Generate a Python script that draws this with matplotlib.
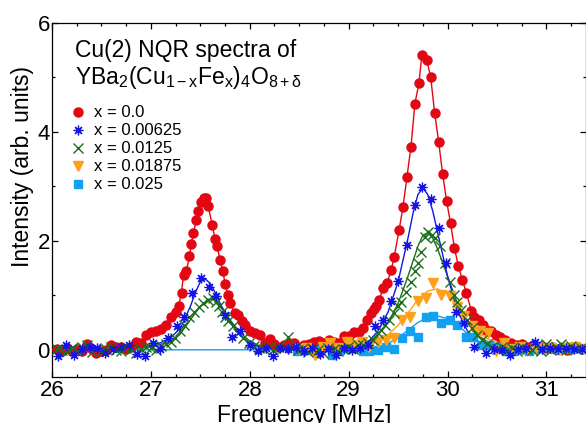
import matplotlib
matplotlib.use("Agg")
import matplotlib.pyplot as plt
from matplotlib.lines import Line2D
from matplotlib.ticker import MultipleLocator

plt.rcParams['font.family'] = ['Liberation Sans', 'DejaVu Sans']
plt.rcParams['mathtext.fontset'] = 'custom'
plt.rcParams['mathtext.rm'] = 'Liberation Sans'
plt.rcParams['mathtext.it'] = 'Liberation Sans'
plt.rcParams['mathtext.bf'] = 'Liberation Sans:bold'

labels = ["x = 0.0", "x = 0.00625", "x = 0.0125", "x = 0.01875", "x = 0.025"]

# x = 0.0
red_f = [26.05, 26.10, 26.15, 26.20, 26.25, 26.30, 26.35, 26.40, 26.45, 26.50, 26.55, 26.60, 26.65,
         26.70, 26.75, 26.80, 26.85, 26.90, 26.95, 27.00, 27.05, 27.10, 27.15, 27.20, 27.25, 27.28,
         27.31, 27.33, 27.36, 27.39, 27.41, 27.43, 27.46, 27.48, 27.51, 27.54, 27.56, 27.58, 27.62,
         27.65, 27.67, 27.70, 27.73, 27.75, 27.78, 27.80, 27.85, 27.88, 27.92, 27.95, 28.00, 28.05,
         28.10, 28.15, 28.20, 28.25, 28.30, 28.35, 28.40, 28.45, 28.50, 28.55, 28.60, 28.65, 28.70,
         28.75, 28.80, 28.85, 28.90, 28.95, 29.00, 29.05, 29.10, 29.14, 29.19, 29.23, 29.26, 29.28,
         29.31, 29.35, 29.39, 29.43, 29.46, 29.51, 29.55, 29.59, 29.63, 29.67, 29.71, 29.74, 29.79,
         29.83, 29.87, 29.91, 29.95, 29.99, 30.03, 30.07, 30.11, 30.15, 30.19, 30.24, 30.27, 30.32,
         30.36, 30.39, 30.44, 30.49, 30.53, 30.58, 30.64, 30.70, 30.75, 30.80, 30.86, 30.91, 30.96,
         31.01, 31.06, 31.11, 31.16, 31.21, 31.26, 31.31, 31.36]
red_i = [0.02, -0.02, 0.04, -0.03, 0.01, -0.03, 0.10, 0.02, -0.06, -0.02, 0.00, 0.08, 0.06,
         0.06, 0.02, 0.05, 0.14, 0.12, 0.27, 0.33, 0.34, 0.38, 0.45, 0.60, 0.70, 0.80,
         1.05, 1.38, 1.45, 1.72, 1.95, 2.14, 2.39, 2.54, 2.72, 2.78, 2.78, 2.64, 2.29,
         2.03, 1.90, 1.64, 1.44, 1.20, 1.01, 0.85, 0.67, 0.64, 0.52, 0.46, 0.34, 0.31,
         0.28, 0.13, 0.20, 0.10, 0.05, 0.09, 0.12, 0.13, 0.05, 0.09, 0.10, 0.15, 0.16,
         0.12, 0.18, 0.15, 0.12, 0.26, 0.25, 0.33, 0.33, 0.40, 0.55, 0.68, 0.75, 0.80,
         0.92, 1.14, 1.23, 1.47, 1.70, 2.20, 2.63, 3.18, 3.73, 4.52, 4.89, 5.41, 5.32,
         5.00, 4.34, 3.82, 3.23, 2.74, 2.32, 1.87, 1.53, 1.28, 1.05, 0.72, 0.60, 0.55,
         0.45, 0.37, 0.34, 0.28, 0.24, 0.18, 0.13, 0.08, 0.10, 0.05, 0.09, 0.04, 0.06,
         0.03, 0.05, 0.02, 0.04, 0.00, 0.03, 0.06, 0.02]

# x = 0.00625
blue_f = [26.06, 26.14, 26.22, 26.30, 26.38, 26.46, 26.54, 26.62, 26.70, 26.78, 26.86, 26.94,
          27.02, 27.09, 27.17, 27.26, 27.34, 27.42, 27.51, 27.59, 27.66, 27.75, 27.82, 27.90,
          28.00, 28.08, 28.16, 28.23, 28.31, 28.39, 28.47, 28.55, 28.63, 28.71, 28.79, 28.87,
          28.95, 29.03, 29.11, 29.20, 29.27, 29.35, 29.43, 29.50, 29.59, 29.67, 29.74, 29.83,
          29.91, 29.98, 30.09, 30.17, 30.27, 30.39, 30.47, 30.55, 30.63, 30.71, 30.79, 30.88,
          30.96, 31.04, 31.12, 31.20, 31.28, 31.36]
blue_i = [-0.12, 0.08, -0.09, 0.02, 0.05, 0.03, -0.05, 0.02, 0.05, 0.09, -0.08, -0.12,
          0.12, 0.02, 0.21, 0.43, 0.60, 1.05, 1.31, 1.15, 0.99, 0.64, 0.24, 0.34,
          0.09, -0.03, 0.04, -0.11, 0.04, 0.02, 0.05, -0.02, 0.03, -0.08, 0.02, -0.09,
          0.03, 0.00, 0.04, 0.09, 0.43, 0.55, 0.89, 1.26, 1.92, 2.65, 2.98, 2.77,
          2.23, 1.59, 0.70, 0.49, 0.06, -0.06, 0.02, 0.00, -0.09, 0.02, 0.03, 0.15,
          0.02, 0.04, 0.01, 0.03, 0.02, 0.01]

# x = 0.0125
green_f = [26.05, 26.10, 26.15, 26.20, 26.25, 26.30, 26.35, 26.40, 26.45, 26.50, 26.55, 26.60,
           26.65, 26.70, 26.75, 26.80, 26.85, 26.90, 26.95, 27.00, 27.05, 27.10, 27.15, 27.20,
           27.24, 27.29, 27.34, 27.39, 27.44, 27.49, 27.53, 27.58, 27.63, 27.66, 27.69, 27.72,
           27.75, 27.78, 27.83, 27.88, 27.93, 27.99, 28.04, 28.09, 28.14, 28.19, 28.24, 28.29,
           28.34, 28.39, 28.44, 28.49, 28.54, 28.59, 28.64, 28.69, 28.74, 28.79, 28.84, 28.89,
           28.94, 28.99, 29.04, 29.09, 29.15, 29.20, 29.25, 29.30, 29.33, 29.37, 29.41, 29.46,
           29.50, 29.53, 29.58, 29.63, 29.67, 29.70, 29.73, 29.77, 29.80, 29.84, 29.87, 29.92,
           29.97, 30.02, 30.07, 30.10, 30.14, 30.20, 30.25, 30.30, 30.35, 30.40, 30.45, 30.50,
           30.55, 30.60, 30.65, 30.70, 30.75, 30.80, 30.85, 30.90, 30.95, 31.00, 31.05, 31.10,
           31.15, 31.20, 31.25, 31.30, 31.35]
green_i = [0.02, 0.00, -0.03, 0.04, -0.02, 0.06, 0.08, -0.04, 0.03, -0.03, 0.02, 0.05,
           0.00, -0.03, 0.04, 0.02, -0.05, 0.02, 0.06, 0.04, 0.00, 0.07, 0.10, 0.15,
           0.21, 0.34, 0.46, 0.61, 0.70, 0.78, 0.85, 0.92, 0.96, 0.88, 0.80, 0.70,
           0.60, 0.52, 0.43, 0.31, 0.21, 0.12, 0.07, 0.04, 0.02, 0.05, 0.00, 0.06,
           0.03, 0.24, 0.04, 0.00, 0.03, -0.04, 0.02, 0.00, -0.05, 0.03, 0.00, -0.03,
           0.02, 0.05, 0.02, 0.08, 0.09, 0.12, 0.18, 0.30, 0.37, 0.45, 0.54, 0.67,
           0.80, 0.88, 1.06, 1.25, 1.45, 1.60, 1.80, 2.08, 2.17, 2.10, 2.06, 1.90,
           1.59, 1.25, 1.01, 0.88, 0.73, 0.55, 0.40, 0.28, 0.18, 0.10, 0.06, 0.02,
           0.05, 0.00, 0.03, -0.02, 0.05, 0.02, 0.00, 0.08, -0.02, 0.10, 0.00, 0.06,
           0.10, 0.00, 0.07, 0.01, 0.03]

# x = 0.01875
orange_f = [28.50, 28.58, 28.66, 28.74, 28.81, 28.89, 28.98, 29.05, 29.13, 29.21, 29.30, 29.38,
            29.46, 29.54, 29.62, 29.70, 29.78, 29.85, 29.93, 30.02, 30.10, 30.17, 30.25, 30.33,
            30.41, 30.49, 30.57, 30.65, 30.73, 30.81, 30.89, 30.97, 31.05, 31.13, 31.21, 31.29,
            31.37]
orange_i = [0.02, 0.04, -0.09, 0.05, 0.13, 0.04, 0.15, 0.08, 0.15, 0.06, 0.15, 0.18,
            0.21, 0.55, 0.61, 0.89, 0.95, 1.22, 1.01, 0.98, 0.78, 0.62, 0.43, 0.35,
            0.30, -0.03, 0.12, 0.02, 0.05, 0.00, 0.06, 0.02, 0.04, -0.01, 0.03, 0.05,
            0.02]

# x = 0.025
cyan_f = [28.48, 28.55, 28.63, 28.71, 28.83, 28.91, 28.99, 29.08, 29.15, 29.21, 29.30, 29.38,
          29.46, 29.54, 29.62, 29.70, 29.78, 29.85, 29.93, 30.02, 30.10, 30.19, 30.26, 30.34,
          30.42, 30.51, 30.59, 30.67, 30.74, 30.82, 30.90, 31.00, 31.08, 31.16, 31.24, 31.32]
cyan_i = [-0.03, -0.01, 0.00, 0.02, -0.09, 0.00, 0.03, 0.03, -0.02, -0.03, 0.00, 0.06,
          0.02, 0.21, 0.34, 0.24, 0.61, 0.62, 0.50, 0.55, 0.46, 0.24, 0.24, 0.09,
          0.08, 0.06, -0.03, -0.02, 0.01, -0.02, 0.03, 0.06, 0.01, 0.03, 0.02, 0.03]

# fitted curves
blue_fit_f = [26.0, 26.8, 27.0, 27.1, 27.2, 27.3, 27.4, 27.45, 27.5, 27.55, 27.6, 27.65, 27.7,
              27.8, 27.9, 28.0, 28.1, 28.3, 29.0, 29.1, 29.2, 29.3, 29.4, 29.5, 29.6, 29.65,
              29.7, 29.75, 29.8, 29.85, 29.9, 30.0, 30.1, 30.2, 30.3, 30.4, 30.6, 31.4]
blue_fit_i = [0.0, 0.03, 0.08, 0.13, 0.22, 0.40, 0.80, 1.05, 1.25, 1.30, 1.22, 1.05, 0.85,
              0.52, 0.28, 0.12, 0.05, 0.01, 0.03, 0.07, 0.15, 0.35, 0.70, 1.25, 2.05, 2.50,
              2.85, 2.97, 2.85, 2.55, 2.15, 1.35, 0.72, 0.35, 0.16, 0.07, 0.02, 0.0]
green_fit_f = [26.0, 26.8, 27.0, 27.2, 27.3, 27.4, 27.5, 27.6, 27.65, 27.7, 27.8, 27.9, 28.0,
               28.1, 28.3, 29.0, 29.2, 29.3, 29.4, 29.5, 29.6, 29.7, 29.75, 29.8, 29.85, 29.9,
               30.0, 30.1, 30.2, 30.3, 30.4, 30.6, 31.4]
green_fit_i = [0.0, 0.02, 0.05, 0.15, 0.30, 0.55, 0.80, 0.93, 0.92, 0.82, 0.55, 0.32, 0.16,
               0.07, 0.02, 0.04, 0.15, 0.28, 0.50, 0.85, 1.35, 1.90, 2.10, 2.15, 2.05, 1.85,
               1.35, 0.85, 0.50, 0.28, 0.15, 0.05, 0.0]
orange_fit_f = [28.5, 29.0, 29.2, 29.4, 29.5, 29.6, 29.7, 29.8, 29.9, 30.0, 30.1, 30.2, 30.3,
                30.4, 30.6, 30.8, 31.4]
orange_fit_i = [0.02, 0.06, 0.12, 0.28, 0.45, 0.68, 0.92, 1.08, 1.12, 1.02, 0.80, 0.55, 0.35,
                0.20, 0.07, 0.03, 0.01]
cyan_fit_f = [26.0, 29.2, 29.3, 29.4, 29.5, 29.6, 29.7, 29.8, 29.9, 30.0, 30.1, 30.2, 30.3,
              30.4, 30.6, 31.4]
cyan_fit_i = [0.0, 0.0, 0.05, 0.12, 0.22, 0.36, 0.50, 0.60, 0.62, 0.57, 0.45, 0.30, 0.17,
              0.08, 0.02, 0.0]

c_red = '#e30613'
c_blue = '#1414e6'
c_green = '#1b6e1b'
c_orange = '#ffa01a'
c_cyan = '#14a0f0'
star = (8, 2, 0)

fig = plt.figure(figsize=(5.86, 4.23), dpi=100)
ax = fig.add_axes([0.0887, 0.1087, 0.9113, 0.8369])

# fit lines
ax.plot(cyan_fit_f, cyan_fit_i, '-', color=c_cyan, lw=1.0, zorder=2)
ax.plot(orange_fit_f, orange_fit_i, '-', color=c_orange, lw=1.0, zorder=2)
ax.plot(green_fit_f, green_fit_i, '-', color=c_green, lw=1.0, zorder=2)
ax.plot(blue_fit_f, blue_fit_i, '-', color=c_blue, lw=1.0, zorder=2)

# data points
ax.plot(red_f, red_i, '-o', color=c_red, lw=1.0, ms=6.5, mec=c_red, zorder=3)
ax.plot(cyan_f, cyan_i, 's', color=c_cyan, ms=6, mec=c_cyan, zorder=3)
ax.plot(orange_f, orange_i, 'v', color=c_orange, ms=6.5, mec=c_orange, zorder=3)
ax.plot(green_f, green_i, 'x', color=c_green, ms=7, mew=1.0, zorder=4)
ax.plot(blue_f, blue_i, marker=star, ls='none', color=c_blue, ms=7, mew=0.9, zorder=4)

ax.set_xlim(26, 31.4)
ax.set_ylim(-0.5, 6)
ax.xaxis.set_major_locator(MultipleLocator(1))
ax.xaxis.set_minor_locator(MultipleLocator(0.25))
ax.yaxis.set_major_locator(MultipleLocator(2))
ax.yaxis.set_minor_locator(MultipleLocator(1))
ax.tick_params(which='both', direction='in', top=True, right=True, labelsize=16, width=0.9)
ax.tick_params(axis='x', pad=2)
ax.tick_params(axis='y', pad=1.5)
ax.tick_params(which='major', length=4)
ax.tick_params(which='minor', length=2.5)
for sp in ax.spines.values():
    sp.set_linewidth(0.9)

ax.set_xlabel("Frequency [MHz]", fontsize=16.5, labelpad=-2)
ax.xaxis.set_label_coords(0.472, -0.075, transform=ax.transAxes)
ax.xaxis.label.set_va('top')
ax.set_ylabel("Intensity (arb. units)", fontsize=16.5)
ax.yaxis.set_label_coords(-0.056, 0.596, transform=ax.transAxes)
ax.yaxis.label.set_va('center')

ax.text(0.043, 0.955, "Cu(2) NQR spectra of", transform=ax.transAxes, fontsize=16.5,
        va='top', ha='left')
ax.text(0.043, 0.883, "YBa$_2$(Cu$_{1\u2212x}$Fe$_x$)$_4$O$_{8+\\delta}$", transform=ax.transAxes,
        fontsize=16.5, va='top', ha='left')

handles = [
    Line2D([], [], ls='none', marker='o', color=c_red, ms=6.5),
    Line2D([], [], ls='none', marker=star, color=c_blue, ms=7, mew=0.9),
    Line2D([], [], ls='none', marker='x', color=c_green, ms=7, mew=1.0),
    Line2D([], [], ls='none', marker='v', color=c_orange, ms=6.5),
    Line2D([], [], ls='none', marker='s', color=c_cyan, ms=6),
]
ax.legend(handles, labels, loc='upper left', bbox_to_anchor=(0.012, 0.8), frameon=False,
          fontsize=12, handlelength=1.0, handletextpad=0.45, labelspacing=0.18, borderpad=0.2)

fig.savefig("out.png", dpi=100)
